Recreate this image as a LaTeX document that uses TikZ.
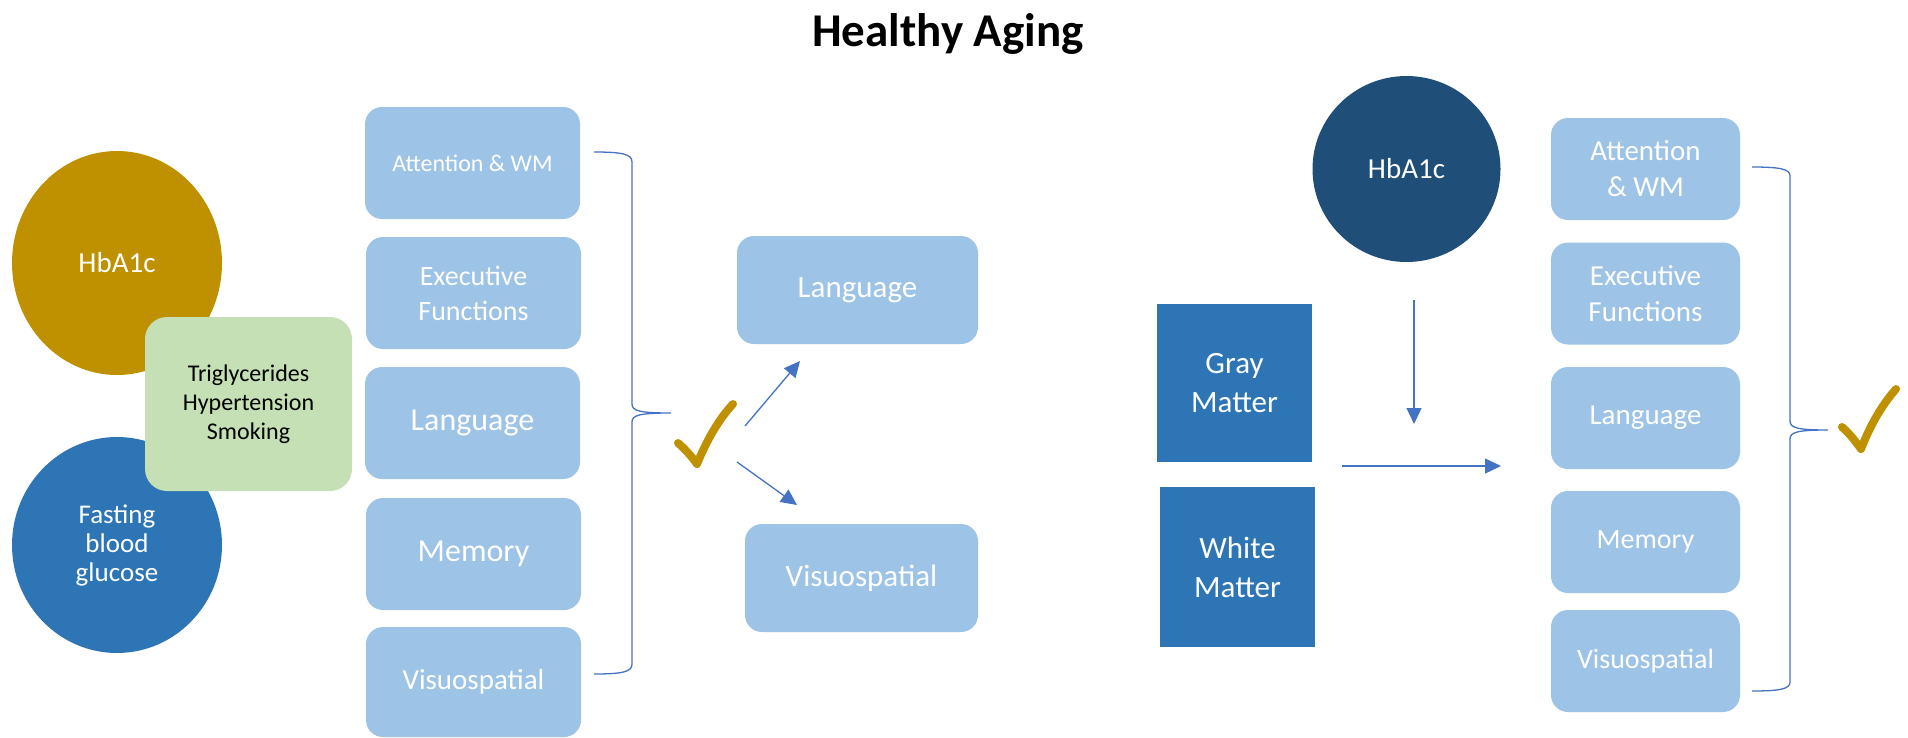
\documentclass[tikz,border=0pt]{standalone}
\usepackage{fontspec}
\setmainfont{Carlito}
\usetikzlibrary{arrows.meta,shapes.geometric}
\definecolor{gold}{HTML}{BF9000}
\definecolor{midblue}{HTML}{2E75B6}
\definecolor{darkblue}{HTML}{1F4E79}
\definecolor{lightblue}{HTML}{9DC3E6}
\definecolor{lightgreen}{HTML}{C5E0B4}
\definecolor{linkblue}{HTML}{4472C4}
\newcommand{\fs}[2]{\fontsize{#1pt}{#2pt}\selectfont}
\begin{document}
\begin{tikzpicture}[x=1pt,y=-1pt,
  wh/.style 2 args={minimum width=#1pt, minimum height=#2pt},
  cogbox/.style={fill=lightblue, rounded corners=17pt, text=white, align=center, inner sep=0pt},
  greenbox/.style={fill=lightgreen, rounded corners=22pt, text=black, align=center, inner sep=0pt},
  matterbox/.style={fill=midblue, text=white, align=center, inner sep=0pt},
  disc/.style={ellipse, text=white, align=center, inner sep=0pt},
  conn/.style={draw=linkblue, line width=1.3pt, -{Triangle[length=16pt,width=15pt]}},
  bracepath/.style={draw=linkblue, line width=1.3pt},
  checkmark/.style={draw=gold, line width=8pt, line cap=round, line join=round}]
\useasboundingbox (0,0) rectangle (1908,737);

% title
\node[anchor=base, font=\bfseries\fs{47}{56}] (title) at (948,46) {Healthy Aging};

% ---------- left part ----------
\node[disc, fill=gold, wh={210}{224}, font=\fs{29}{35}] (hbaL) at (117,263) {HbA1c};
\node[disc, fill=midblue, wh={210}{216}, font=\fs{27}{29}] (fbg) at (117,545) {Fasting\\blood\\glucose};
\node[greenbox, wh={207}{174}, font=\fs{24}{29}] (risk) at (248.5,404) {Triglycerides\\Hypertension\\Smoking};

\node[cogbox, wh={215}{112}, font=\fs{24}{30}] (attL) at (472.5,163) {Attention \& WM};
\node[cogbox, wh={215}{112}, font=\fs{28}{35}] (exeL) at (473.5,293) {Executive\\Functions};
\node[cogbox, wh={215}{112}, font=\fs{32}{38}] (lanL) at (472.5,423) {Language};
\node[cogbox, wh={215}{112}, font=\fs{32}{38}] (memL) at (473.5,554) {Memory};
\node[cogbox, wh={215}{110}, font=\fs{29}{35}] (visL) at (473.5,682) {Visuospatial};

% left brace
\path[bracepath] (594,152) .. controls (622,152) and (632,154) .. (632,162)
  -- (632,404) .. controls (632,411) and (640,413) .. (671,413)
  .. controls (640,413) and (632,415) .. (632,422)
  -- (632,664) .. controls (632,672) and (622,674) .. (594,674);

% left check mark
\path[checkmark] (678,443) .. controls (686,450) and (692,457) .. (697,464)
  .. controls (706,442) and (718,420) .. (733,404);

\node[cogbox, wh={241}{108}, font=\fs{31}{37}] (lanM) at (857.5,290) {Language};
\node[cogbox, wh={233}{108}, font=\fs{31}{37}] (visM) at (861.5,578) {Visuospatial};

\coordinate (a1s) at (745,426);
\coordinate (a1e) at (800,361);
\coordinate (a2s) at (737,462);
\coordinate (a2e) at (797,505);
\draw[conn] (a1s) -- (a1e);
\draw[conn] (a2s) -- (a2e);

% ---------- right part ----------
\node[disc, fill=darkblue, wh={188}{186}, font=\fs{29}{35}] (hbaR) at (1406.5,169) {HbA1c};
\node[matterbox, wh={155}{158}, font=\fs{31}{39}] (gray) at (1234.5,383) {Gray\\Matter};
\node[matterbox, wh={155}{160}, font=\fs{31}{39}] (white) at (1237.5,567) {White\\Matter};

\coordinate (d1s) at (1414,300);
\coordinate (d1e) at (1414,424);
\coordinate (r1s) at (1342,466);
\coordinate (r1e) at (1501,466);
\draw[conn] (d1s) -- (d1e);
\draw[conn] (r1s) -- (r1e);

\node[cogbox, wh={189}{102}, font=\fs{29}{36}] (attR) at (1645.5,169) {Attention\\\& WM};
\node[cogbox, wh={189}{102}, font=\fs{29}{36}] (exeR) at (1645.5,293.5) {Executive\\Functions};
\node[cogbox, wh={189}{102}, font=\fs{29}{36}] (lanR) at (1645.5,418) {Language};
\node[cogbox, wh={189}{102}, font=\fs{28}{34}] (memR) at (1645.5,542) {Memory};
\node[cogbox, wh={189}{102}, font=\fs{28}{34}] (visR) at (1645.5,661) {Visuospatial};

% right brace
\path[bracepath] (1752,167) .. controls (1780,167) and (1790,169) .. (1790,176)
  -- (1790,421) .. controls (1790,428) and (1798,430) .. (1828,430)
  .. controls (1798,430) and (1790,432) .. (1790,439)
  -- (1790,682) .. controls (1790,689) and (1780,691) .. (1752,691);

% right check mark
\path[checkmark] (1842,427) .. controls (1850,434) and (1856,442) .. (1861,449)
  .. controls (1870,426) and (1881,406) .. (1896,389);
\end{tikzpicture}
\end{document}
